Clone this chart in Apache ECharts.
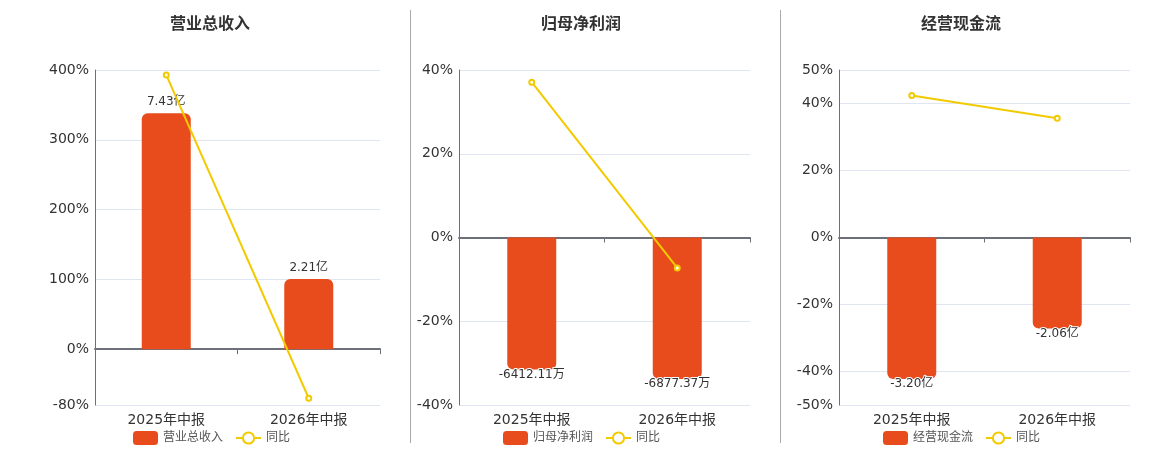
<!DOCTYPE html>
<html>
<head>
    <meta charset="utf-8">
    <title>ECharts</title>
    <script src="https://cdn.jsdelivr.net/npm/echarts@6/dist/echarts.min.js"></script>
    <style>
        body { margin: 0; }
        #main { width: 1160px; height: 450px; }
    </style>
</head>
<body>
<div id="main"></div>
<script type="text/javascript">
    // 数据
    var categories = ['2025年中报', '2026年中报'];
    var titles = ['营业总收入', '归母净利润', '经营现金流'];
    var units = ['亿', '万', '亿'];
    var revenue = [7.43, 2.21];
    var revenueYoy = [393.0, -70.3];
    var profit = [-6412.11, -6877.37];
    var profitYoy = [37.1, -7.26];
    var cash = [-3.20, -2.06];
    var cashYoy = [42.4, 35.6];
    var pctTicks1 = [-80, 0, 100, 200, 300, 400];
    var pctTicks2 = [-40, -20, 0, 20, 40];
    var pctTicks3 = [-50, -40, -20, 0, 20, 40, 50];

    var barValues = [revenue, profit, cash];
    var yoyValues = [revenueYoy, profitYoy, cashYoy];
    var pctTicks = [pctTicks1, pctTicks2, pctTicks3];

    // 布局
    var grids = [
        {left: 95, right: 780, top: 70, bottom: 45},
        {left: 459, right: 410, top: 70, bottom: 45},
        {left: 839, right: 30, top: 70, bottom: 45}
    ];
    var titleCenters = [205, 576, 956];
    var legendLefts = [128, 498, 878];

    var barColor = '#E84C1D';
    var lineColor = '#F2CA00';
    var font = 'DejaVu Sans, Noto Sans CJK SC, sans-serif';

    var myChart = echarts.init(document.getElementById('main'));

    var option = {
        textStyle: {fontFamily: font},
        title: [],
        legend: [],
        grid: grids,
        xAxis: [],
        yAxis: [],
        series: [],
        graphic: [
            {type: 'line', shape: {x1: 410.5, y1: 10, x2: 410.5, y2: 443}, style: {stroke: '#AAAAAA', lineWidth: 1}},
            {type: 'line', shape: {x1: 780.5, y1: 10, x2: 780.5, y2: 443}, style: {stroke: '#AAAAAA', lineWidth: 1}}
        ]
    };

    for (var i = 0; i < 3; i++) {
        var ticks = pctTicks[i];
        var pMin = ticks[0], pMax = ticks[ticks.length - 1];
        var maxAbs = Math.max.apply(null, barValues[i].map(Math.abs));
        var bMax = maxAbs / 0.845;
        var bMin = bMax * pMin / pMax;

        option.title.push({
            text: titles[i],
            left: titleCenters[i],
            top: 12,
            textAlign: 'center',
            textStyle: {fontSize: 16, fontWeight: 'bold', color: '#333', fontFamily: font}
        });

        option.legend.push({
            data: [titles[i], '同比'],
            left: legendLefts[i],
            top: 426,
            itemWidth: 25,
            itemHeight: 14,
            itemGap: 12,
            textStyle: {fontSize: 12, color: '#555', fontFamily: font}
        });

        // 标签轴（底部）
        option.xAxis.push({
            type: 'category',
            gridIndex: i,
            data: categories,
            position: 'bottom',
            axisLine: {show: false, onZero: false},
            axisTick: {show: false},
            axisLabel: {fontSize: 14, color: '#333', margin: 8}
        });
        // 零线轴
        option.xAxis.push({
            type: 'category',
            gridIndex: i,
            data: categories,
            position: 'bottom',
            axisLine: {show: true, onZero: true, lineStyle: {color: '#6E7079', width: 2}},
            axisTick: {show: true, inside: false, length: 5, lineStyle: {color: '#6E7079'}},
            axisLabel: {show: false}
        });

        option.yAxis.push({
            type: 'value',
            gridIndex: i,
            min: pMin,
            max: pMax,
            axisLine: {show: true, lineStyle: {color: '#6E7079'}},
            axisTick: {show: false, customValues: ticks},
            axisLabel: {customValues: ticks, fontSize: 14, color: '#333', margin: 6, formatter: '{value}%'},
            splitLine: {show: true, lineStyle: {color: '#E0E6F1'}}
        });
        option.yAxis.push({
            type: 'value',
            gridIndex: i,
            min: bMin,
            max: bMax,
            show: false,
            splitLine: {show: false}
        });

        var unit = units[i];
        option.series.push({
            name: titles[i],
            type: 'bar',
            xAxisIndex: i * 2,
            yAxisIndex: i * 2 + 1,
            barWidth: 49,
            itemStyle: {color: barColor},
            data: barValues[i].map(function (v) {
                return {
                    value: v,
                    itemStyle: {borderRadius: v >= 0 ? [6, 6, 0, 0] : [0, 0, 6, 6]},
                    label: {position: v >= 0 ? 'top' : 'bottom', distance: v >= 0 ? 5 : -1}
                };
            }),
            label: {
                show: true,
                fontSize: 12,
                color: '#333',
                textBorderColor: '#fff',
                textBorderWidth: 2,
                formatter: (function (u) {
                    return function (p) { return p.value.toFixed(2) + u; };
                })(unit)
            }
        });
        option.series.push({
            name: '同比',
            type: 'line',
            xAxisIndex: i * 2,
            yAxisIndex: i * 2,
            data: yoyValues[i],
            symbol: 'emptyCircle',
            symbolSize: 5,
            itemStyle: {color: lineColor},
            lineStyle: {color: lineColor, width: 2},
            z: 5
        });
    }

    myChart.setOption(option);
</script>
</body>
</html>
